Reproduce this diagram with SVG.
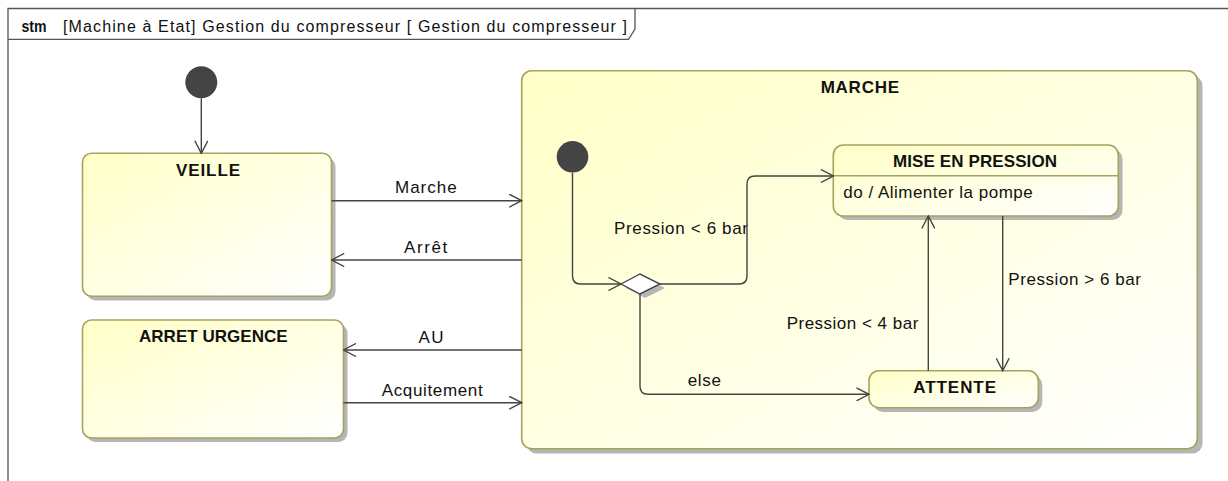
<svg xmlns="http://www.w3.org/2000/svg" width="1228" height="481" viewBox="0 0 1228 481">
  <defs>
    <linearGradient id="stateFill" x1="0" y1="0" x2="1" y2="1">
      <stop offset="0" stop-color="#ffffc6"/>
      <stop offset="1" stop-color="#ffffff"/>
    </linearGradient>
    <marker id="open" viewBox="0 0 14 14" markerWidth="14" markerHeight="14" refX="13" refY="7" orient="auto" markerUnits="userSpaceOnUse">
      <path d="M0.5,0.5 L13,7 L0.5,13.5" fill="none" stroke="#444" stroke-width="1.4"/>
    </marker>
    <style>
      .frame { fill: none; stroke: #555; stroke-width: 1.3; }
      .shadow { fill: #b6b6b6; }
      .state { fill: url(#stateFill); stroke: #a5a35e; stroke-width: 1.6; }
      .sep { stroke: #a5a35e; stroke-width: 1.4; }
      .init { fill: #444; }
      .title { font-family: "Liberation Sans", Arial, sans-serif; font-weight: bold; font-size: 17px; fill: #111; }
      .txt { font-family: "Liberation Sans", Arial, sans-serif; font-size: 17px; fill: #111; }
      .hdr { font-family: "Liberation Sans", Arial, sans-serif; font-size: 16px; fill: #111; }
      .edge { fill: none; stroke: #444; stroke-width: 1.4; marker-end: url(#open); }
    </style>
  </defs>

  <rect width="1228" height="481" fill="#ffffff"/>

  <!-- diagram frame with name tab -->
  <g id="frame">
    <path class="frame" d="M8,490 V8.5 H1240"/>
    <path class="frame" d="M635,8.5 V29 L628.5,39.3 H8"/>
    <text class="hdr" x="21.5" y="31.5" font-weight="bold" textLength="25" lengthAdjust="spacingAndGlyphs">stm</text>
    <text class="hdr" x="63" y="31.5" textLength="564" lengthAdjust="spacing">[Machine à Etat] Gestion du compresseur [ Gestion du compresseur ]</text>
  </g>

  <!-- top-level initial pseudostate -->
  <g id="initial">
    <circle class="init" cx="201.3" cy="82.2" r="16"/>
  </g>

  <g id="veille">
    <rect class="shadow" x="86.5" y="157.5" width="249" height="143" rx="9"/>
    <rect class="state" x="82.5" y="153.3" width="249" height="143" rx="9"/>
    <text class="title" x="176" y="176" textLength="64" lengthAdjust="spacing">VEILLE</text>
  </g>

  <g id="arret-urgence">
    <rect class="shadow" x="86.5" y="324" width="261" height="118" rx="9"/>
    <rect class="state" x="82.5" y="320" width="261" height="118" rx="9"/>
    <text class="title" x="139" y="342.3" textLength="148.7" lengthAdjust="spacing">ARRET URGENCE</text>
  </g>

  <!-- composite state MARCHE and its substates -->
  <g id="marche">
    <rect class="shadow" x="526.5" y="75.5" width="676" height="378" rx="10"/>
    <rect class="state" x="521.7" y="70.7" width="675.6" height="378" rx="10"/>
    <text class="title" x="820.7" y="93.3" textLength="78.3" lengthAdjust="spacing">MARCHE</text>
  </g>

  <g id="marche-initial">
    <circle class="init" cx="572.5" cy="156.8" r="15.8"/>
  </g>

  <g id="choice">
    <polygon points="626,288 645,278 665,288 645,298" fill="#b6b6b6"/>
    <polygon points="621,284 640,274 660,284 640,294" fill="#ffffff" stroke="#444" stroke-width="1.4"/>
  </g>

  <g id="mise-en-pression">
    <rect class="shadow" x="837.5" y="149" width="285" height="71" rx="10"/>
    <rect class="state" x="833.3" y="145" width="285" height="71" rx="10"/>
    <line class="sep" x1="833.3" y1="175.7" x2="1118.3" y2="175.7"/>
    <text class="title" x="893" y="167.3" textLength="164" lengthAdjust="spacing">MISE EN PRESSION</text>
    <text class="txt" x="843.3" y="198.3" textLength="189.4" lengthAdjust="spacing">do / Alimenter la pompe</text>
  </g>

  <g id="attente">
    <rect class="shadow" x="873" y="375" width="169.3" height="37" rx="10"/>
    <rect class="state" x="869" y="370.7" width="169.3" height="37" rx="10"/>
    <text class="title" x="913.3" y="393.3" textLength="82.7" lengthAdjust="spacing">ATTENTE</text>
  </g>

  <!-- transitions -->
  <g id="connectors">
    <text class="txt" x="395" y="193.3" textLength="61.7" lengthAdjust="spacing">Marche</text>
    <text class="txt" x="404" y="253.3" textLength="43.3" lengthAdjust="spacing">Arrêt</text>
    <text class="txt" x="418.5" y="343.3" textLength="25" lengthAdjust="spacing">AU</text>
    <text class="txt" x="381.7" y="395.7" textLength="101" lengthAdjust="spacing">Acquitement</text>
    <text class="txt" x="614" y="234" textLength="134" lengthAdjust="spacing">Pression &lt; 6 bar</text>
    <text class="txt" x="1008.3" y="285" textLength="132.7" lengthAdjust="spacing">Pression &gt; 6 bar</text>
    <text class="txt" x="786.7" y="329" textLength="131.6" lengthAdjust="spacing">Pression &lt; 4 bar</text>
    <text class="txt" x="687.7" y="386" textLength="33.3" lengthAdjust="spacing">else</text>

    <path class="edge" d="M201.3,98.2 V153.3"/>
    <path class="edge" d="M331.7,200.7 H521.7"/>
    <path class="edge" d="M521.7,260 H331.7"/>
    <path class="edge" d="M521.7,350 H343.5"/>
    <path class="edge" d="M343.5,402.7 H521.7"/>

    <path class="edge" d="M572.5,172.6 V276 Q572.5,284 580.5,284 H621"/>
    <path class="edge" d="M660,284 H739 Q747,284 747,276 V184 Q747,176 755,176 H833.3"/>
    <path class="edge" d="M640,294 V386.3 Q640,394.3 648,394.3 H869"/>
    <path class="edge" d="M1002.7,216 V370.7"/>
    <path class="edge" d="M928.3,370.7 V216"/>
  </g>
</svg>
